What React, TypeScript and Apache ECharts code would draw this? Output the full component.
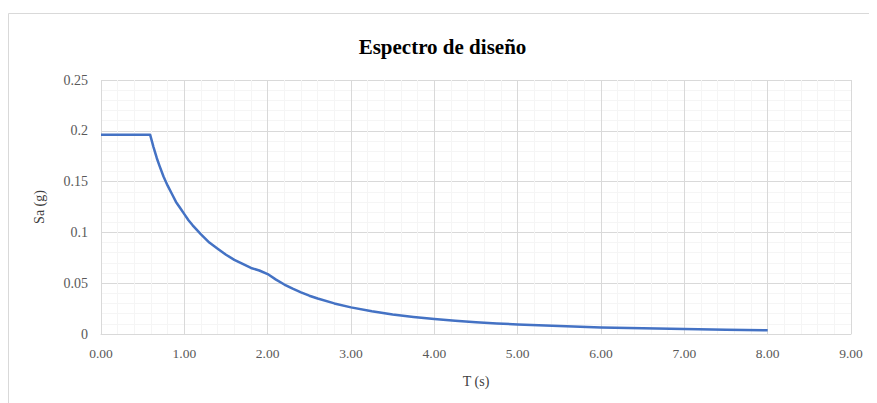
import React, { useEffect, useRef } from "react";
import * as echarts from "echarts";

const periods = [0, 0.59, 0.63, 0.67, 0.7, 0.75, 0.8, 0.85, 0.9, 0.95, 1.0, 1.05, 1.1, 1.2, 1.3, 1.4, 1.5, 1.6, 1.7, 1.8, 1.9, 2.0, 2.1, 2.2, 2.3, 2.4, 2.5, 2.6, 2.8, 3.0, 3.25, 3.5, 3.75, 4.0, 4.25, 4.5, 4.75, 5.0, 5.5, 6.0, 6.5, 7.0, 7.5, 8.0];
const saValues = [0.196, 0.196, 0.184, 0.173, 0.166, 0.155, 0.146, 0.138, 0.13, 0.124, 0.118, 0.112, 0.107, 0.098, 0.09, 0.084, 0.078, 0.073, 0.069, 0.065, 0.0625, 0.059, 0.0535, 0.0487, 0.0446, 0.041, 0.0377, 0.0349, 0.0301, 0.0262, 0.0223, 0.0192, 0.0168, 0.0147, 0.013, 0.0116, 0.0104, 0.0094, 0.0078, 0.0065, 0.0056, 0.0048, 0.0042, 0.0037];

const FONT = "'Liberation Serif', 'Times New Roman', serif";

export default function App() {
  const ref = useRef<HTMLDivElement>(null);
  useEffect(() => {
    if (!ref.current) return;
    const chart = echarts.init(ref.current, null, { renderer: "svg" });
    chart.setOption({
      animation: false,
      backgroundColor: "#ffffff",
      title: {
        text: "Espectro de diseño",
        left: "center",
        top: 23,
        textStyle: { fontFamily: FONT, fontSize: 21, fontWeight: "bold", color: "#000000" },
      },
      graphic: [
        {
          type: "rect",
          shape: { x: 0.5, y: 5.5, width: 1000, height: 1000 },
          style: { fill: "none", stroke: "#d9d9d9", lineWidth: 1 },
          silent: true,
        },
      ],
      grid: { left: 93, top: 72, right: 26, bottom: 69 },
      xAxis: {
        type: "value",
        min: 0,
        max: 9,
        interval: 1,
        name: "T (s)",
        nameLocation: "middle",
        nameGap: 40,
        nameTextStyle: { fontFamily: FONT, fontSize: 14, color: "#404040" },
        axisLine: { show: true, lineStyle: { color: "#d9d9d9" } },
        axisTick: { show: false },
        axisLabel: {
          fontFamily: FONT,
          fontSize: 13.5,
          color: "#595959",
          margin: 12,
          formatter: (v: number) => v.toFixed(2),
        },
        splitLine: { show: true, lineStyle: { color: "#d9d9d9" } },
        minorTick: { show: false, splitNumber: 5 },
        minorSplitLine: { show: true, lineStyle: { color: "#f5f5f5" } },
      },
      yAxis: {
        type: "value",
        min: 0,
        max: 0.25,
        interval: 0.05,
        name: "Sa (g)",
        nameLocation: "middle",
        nameGap: 55,
        nameTextStyle: { fontFamily: FONT, fontSize: 14, color: "#404040" },
        axisLine: { show: false },
        axisTick: { show: false },
        axisLabel: {
          fontFamily: FONT,
          fontSize: 14,
          color: "#595959",
          margin: 13,
          formatter: (v: number) => String(parseFloat(v.toFixed(2))),
        },
        splitLine: { show: true, lineStyle: { color: "#d9d9d9" } },
        minorTick: { show: false, splitNumber: 5 },
        minorSplitLine: { show: true, lineStyle: { color: "#f5f5f5" } },
      },
      series: [
        {
          type: "line",
          data: periods.map((t, i) => [t, saValues[i]]),
          smooth: false,
          showSymbol: false,
          lineStyle: { color: "#4472c4", width: 2.5, join: "round" },
        },
      ],
    });
    return () => chart.dispose();
  }, []);
  return <div ref={ref} style={{ width: 869, height: 395 }} />;
}
